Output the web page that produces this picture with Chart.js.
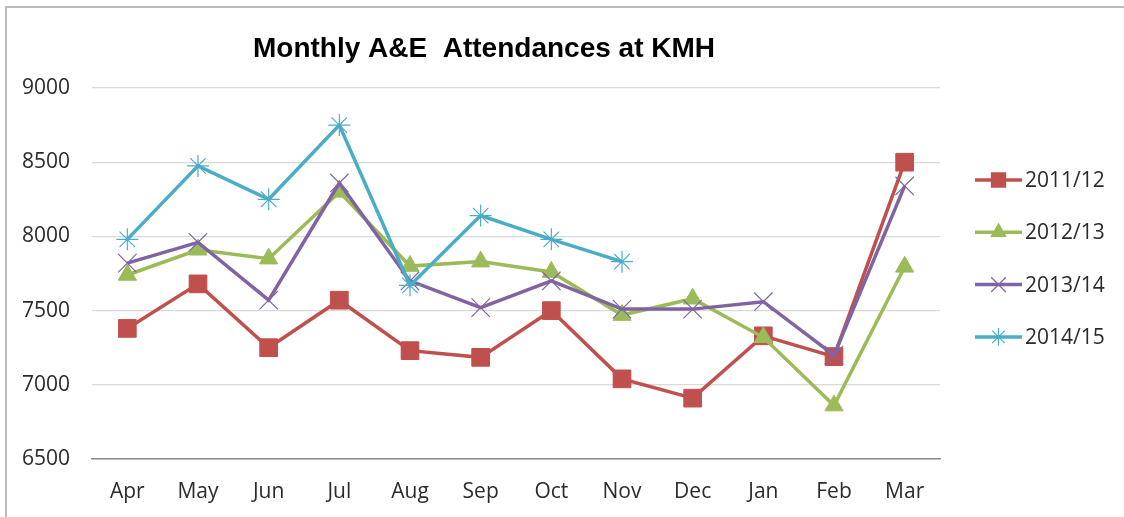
<!DOCTYPE html>
<html>
<head>
<meta charset="utf-8">
<script src="https://cdn.jsdelivr.net/npm/chart.js@4"></script>
<style>
  html, body { margin: 0; padding: 0; background: #fff; }
  #wrap { position: relative; width: 1124px; height: 517px; }
</style>
</head>
<body>
<div id="wrap"><canvas id="aeChart" width="1124" height="517"></canvas></div>
<script>
const months = ['Apr', 'May', 'Jun', 'Jul', 'Aug', 'Sep', 'Oct', 'Nov', 'Dec', 'Jan', 'Feb', 'Mar'];
const seriesNames = ['2011/12', '2012/13', '2013/14', '2014/15'];
const y2011 = [7380, 7680, 7250, 7570, 7230, 7185, 7500, 7040, 6910, 7330, 7190, 8500];
const y2012 = [7740, 7910, 7850, 8300, 7800, 7830, 7760, 7470, 7580, 7320, 6860, 7795];
const y2013 = [7820, 7960, 7570, 8360, 7700, 7520, 7700, 7510, 7510, 7560, 7200, 8340];
const y2014 = [7980, 8475, 8250, 8750, 7670, 8140, 7980, 7830, null, null, null, null];
const yTicks = [6500, 7000, 7500, 8000, 8500, 9000];

const colors = ['#C0504D', '#9BBB59', '#8064A2', '#4BACC6'];
const styles = ['rect', 'triangle', 'crossRot', 'star'];
const radii = [12.5, 10.5, 13, 11];
const FONT = '"Open Sans", "Liberation Sans", sans-serif';
const TEXT = '#2b2b2b';

function makeSet(i, data) {
  const filled = i < 2;
  return {
    label: seriesNames[i],
    data: data,
    borderColor: colors[i],
    backgroundColor: colors[i],
    borderWidth: 3.5,
    pointStyle: styles[i],
    pointRadius: radii[i],
    pointBorderWidth: filled ? 1 : 1.2,
    pointBackgroundColor: colors[i],
    pointBorderColor: colors[i],
    tension: 0,
    spanGaps: false,
    order: 3 - i
  };
}

// title, frame and Excel-style legend (line with marker in the middle)
const extras = {
  id: 'extras',
  afterDraw(chart) {
    const ctx = chart.ctx;
    ctx.save();
    ctx.strokeStyle = '#a6a6a6';
    ctx.lineWidth = 1.5;
    ctx.beginPath();
    ctx.moveTo(6, 517); ctx.lineTo(6, 7); ctx.lineTo(1124, 7);
    ctx.stroke();

    ctx.fillStyle = '#000';
    ctx.font = 'bold 28px "Liberation Sans", Arial, sans-serif';
    ctx.textAlign = 'center';
    ctx.textBaseline = 'middle';
    ctx.fillText('Monthly A&E  Attendances at KMH', 484, 49);

    ctx.font = '21px ' + FONT;
    ctx.textAlign = 'left';
    seriesNames.forEach((name, i) => {
      const y = 180 + i * 52.3;
      ctx.strokeStyle = colors[i];
      ctx.lineWidth = 3.5;
      ctx.beginPath();
      ctx.moveTo(975, y); ctx.lineTo(1022, y);
      ctx.stroke();
      ctx.fillStyle = colors[i];
      ctx.lineWidth = 1.2;
      Chart.helpers.drawPoint(ctx, { pointStyle: styles[i], radius: radii[i] * 0.8, borderWidth: 1 }, 998.5, y);
      ctx.fillStyle = TEXT;
      ctx.fillText(name, 1025, y + 1);
    });
    ctx.restore();
  }
};

new Chart(document.getElementById('aeChart'), {
  type: 'line',
  data: {
    labels: months,
    datasets: [makeSet(0, y2011), makeSet(1, y2012), makeSet(2, y2013), makeSet(3, y2014)]
  },
  options: {
    responsive: false,
    animation: false,
    layout: { padding: { top: 88, right: 184, bottom: 0, left: 0 } },
    plugins: { legend: { display: false }, title: { display: false }, tooltip: { enabled: false } },
    scales: {
      x: {
        offset: true,
        grid: { display: false, drawTicks: false },
        border: { display: true, color: '#8c8c8c', width: 1.5 },
        ticks: { color: TEXT, font: { family: FONT, size: 21 }, padding: 20, maxRotation: 0 },
        afterFit(scale) { scale.height = 58; }
      },
      y: {
        min: 6500,
        max: 9000,
        afterBuildTicks(scale) { scale.ticks = yTicks.map(v => ({ value: v })); },
        grid: { color: '#d9d9d9', lineWidth: 1.2, drawTicks: false },
        border: { display: false },
        ticks: { color: TEXT, font: { family: FONT, size: 21 }, padding: 22, callback: v => String(v) },
        afterFit(scale) { scale.width = 92; }
      }
    }
  },
  plugins: [extras]
});
</script>
</body>
</html>
